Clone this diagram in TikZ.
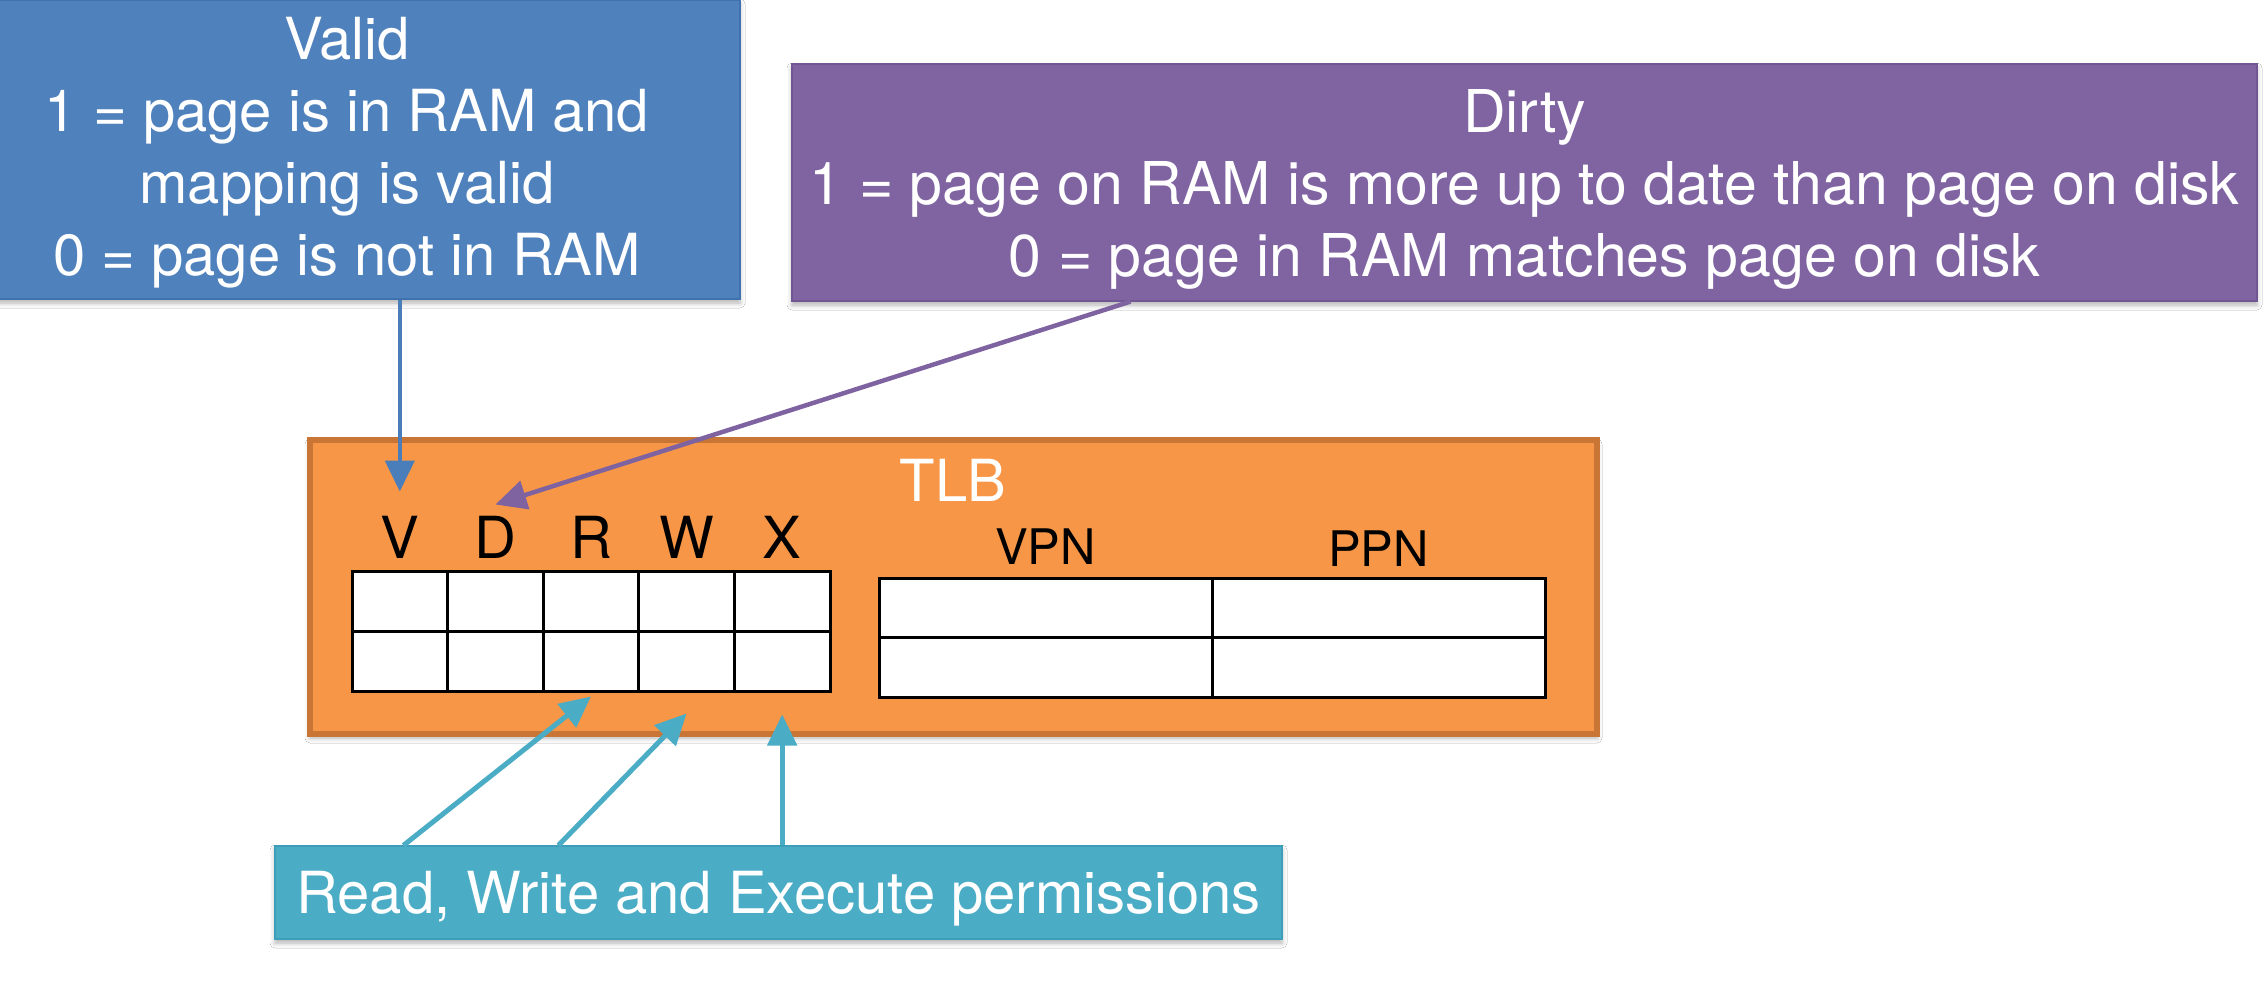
\documentclass[tikz,border=0pt]{standalone}
\usepackage{fontspec}
\setmainfont{TeX Gyre Heros}
\usetikzlibrary{arrows.meta,shadows.blur,calc}

\definecolor{validblue}{HTML}{4F81BD}
\definecolor{validedge}{HTML}{4072AE}
\definecolor{dirtypurple}{HTML}{8064A2}
\definecolor{dirtyedge}{HTML}{705693}
\definecolor{permcyan}{HTML}{4BACC6}
\definecolor{permedge}{HTML}{3C9EB8}
\definecolor{tlborange}{HTML}{F79646}
\definecolor{tlbedge}{HTML}{C87535}
\definecolor{bluewire}{HTML}{4A7EBB}
\definecolor{purplewire}{HTML}{7F63A1}
\definecolor{cyanwire}{HTML}{4BACC6}

\tikzset{
  softshadow/.style={blur shadow={shadow xshift=0pt, shadow yshift=-4pt,
      shadow blur radius=5pt, shadow opacity=30}},
  infobox/.style={rectangle, inner sep=0pt, align=center, text=white,
      font=\fontsize{58}{72}\selectfont, line width=1.2pt, softshadow},
  tlbbox/.style={rectangle, inner sep=0pt, fill=tlborange, draw=tlbedge,
      line width=6pt, softshadow},
  tlbtitle/.style={inner sep=0pt, text=white, font=\fontsize{58}{70}\selectfont},
  cell/.style={rectangle, inner sep=0pt, fill=white, draw=black, line width=3pt},
  flagletter/.style={inner sep=0pt, text=black, font=\fontsize{58}{70}\selectfont},
  colhead/.style={inner sep=0pt, text=black, font=\fontsize{49}{60}\selectfont},
  pointer/.style={line width=4.5pt, -{Triangle[length=31pt,width=29pt]}},
  validarrow/.style={pointer, draw=bluewire, fill=bluewire},
  dirtyarrow/.style={pointer, draw=purplewire, fill=purplewire},
  permarrow/.style={pointer, line width=5pt, draw=cyanwire, fill=cyanwire},
}

\begin{document}
\begin{tikzpicture}[x=1pt,y=-1pt]
\clip (0,0) rectangle (2267,1000);
\fill[white] (0,0) rectangle (2267,1000);

% TLB container
\node[tlbbox, minimum width=1287pt, minimum height=294pt] (tlb) at (953.5,587) {};
\node[tlbtitle, anchor=base] (tlbname) at (953,501) {TLB};

% flag bits: two entries of V D R W X
\foreach \n [count=\i] in {V,D,R,W,X} {
  \pgfmathsetmacro\cx{352+95.6*(\i-0.5)}
  \node[cell, minimum width=95.6pt, minimum height=60pt] (\n1) at (\cx,601) {};
  \node[cell, minimum width=95.6pt, minimum height=60pt] (\n2) at (\cx,661) {};
  \node[flagletter, anchor=base] (L\n) at (\cx,558) {\n};
}

% page number columns
\node[cell, minimum width=333pt, minimum height=59.5pt] (vpn1) at (1045.5,607.75) {};
\node[cell, minimum width=333pt, minimum height=59.5pt] (vpn2) at (1045.5,667.25) {};
\node[cell, minimum width=333pt, minimum height=59.5pt] (ppn1) at (1378.5,607.75) {};
\node[cell, minimum width=333pt, minimum height=59.5pt] (ppn2) at (1378.5,667.25) {};
\node[colhead, anchor=base] (hvpn) at (1045.5,564) {VPN};
\node[colhead, anchor=base] (hppn) at (1378.5,566) {PPN};

% explanation boxes
\node[infobox, fill=validblue, draw=validedge, minimum width=786pt,
      minimum height=299pt] (valid) at (347,149.5)
  {\rule{0pt}{48pt}Valid\\1 = page is in RAM and\\mapping is valid\\0 = page is not in RAM};
\node[infobox, fill=dirtypurple, draw=dirtyedge, minimum width=1465pt,
      minimum height=237pt, font=\fontsize{59}{72}\selectfont] (dirty) at (1524.5,182.5)
  {\rule{0pt}{57pt}Dirty\\1 = page on RAM is more up to date than page on disk\\0 = page in RAM matches page on disk};
\node[infobox, fill=permcyan, draw=permedge, minimum width=1007pt,
      minimum height=93pt] (perm) at (778.5,892.5)
  {\rule[-10pt]{0pt}{65pt}Read, Write and Execute permissions};

% connectors
\draw[validarrow] (valid.south -| LV) -- ([yshift=24pt]LV.north);
\draw[dirtyarrow] ([xshift=339pt]dirty.south west) -- ([yshift=11pt]LD.north);
\draw[permarrow] ([xshift=129pt]perm.north west) -- ([yshift=-4pt]R2.south);
\draw[permarrow] ([xshift=284pt]perm.north west) -- ([yshift=-21pt]W2.south);
\draw[permarrow] (X2.south |- perm.north) -- ([yshift=-22pt]X2.south);
\end{tikzpicture}
\end{document}
